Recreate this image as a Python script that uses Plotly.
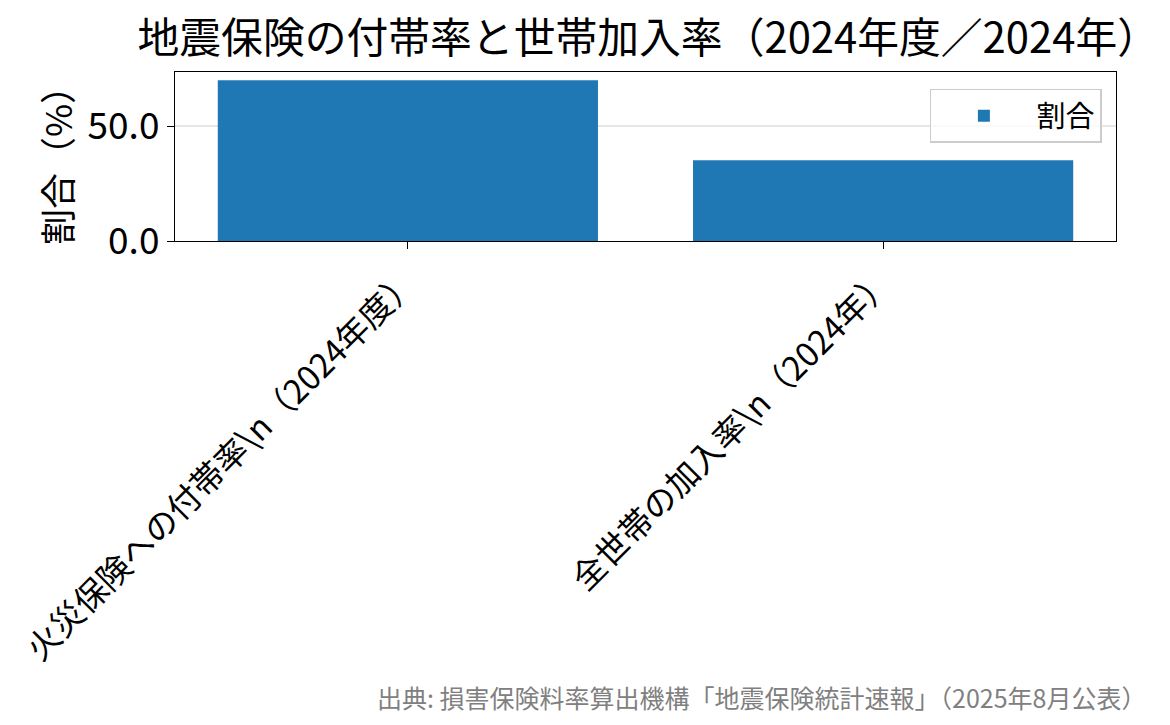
import plotly.graph_objects as go

# データ
categories = ["火災保険への付帯率\\n（2024年度）", "全世帯の加入率\\n（2024年）"]
rates = [69.9, 35.1]
series_name = "割合"
title_text = "地震保険の付帯率と世帯加入率（2024年度／2024年）"
source_text = "出典: 損害保険料率算出機構「地震保険統計速報」（2025年8月公表）"

FONT = "Noto Sans CJK JP, sans-serif"

fig = go.Figure()
fig.add_trace(go.Bar(
    x=categories,
    y=rates,
    name=series_name,
    marker_color="#1f77b4",
    marker_line_width=0,
    width=0.8,
    showlegend=True,
    hovertemplate="%{x}: %{y:.1f}%<extra></extra>",
))

# ページ本体の余白(8px)に収まるサイズ
fig.update_layout(
    width=1162,
    height=717,
    margin=dict(l=167, r=54, t=64, b=484, autoexpand=False),
    plot_bgcolor="white",
    paper_bgcolor="white",
    font=dict(family=FONT, color="black"),
    title=dict(text=title_text, x=0.551, xanchor="center", y=0.958, yanchor="middle",
               font=dict(size=41.8, color="black")),
    legend=dict(
        x=0.985, y=0.9, xanchor="right", yanchor="top",
        bgcolor="rgba(255,255,255,0.8)", bordercolor="#cccccc", borderwidth=1.5,
        font=dict(size=29), itemwidth=95,
    ),
)

fig.update_xaxes(
    range=[-0.49, 1.49],
    tickangle=-45,
    tickfont=dict(size=33),
    ticks="outside", ticklen=7, tickcolor="black", tickwidth=1.3,
    showline=True, linecolor="black", linewidth=1.3, mirror=True,
    showgrid=False, automargin=False,
)
fig.update_yaxes(
    range=[0, 73.5],
    tickvals=[0, 50],
    ticktext=["0.0", "50.0"],
    tickfont=dict(size=37),
    ticks="outside", ticklen=7, tickcolor="black", tickwidth=1.3,
    showline=True, linecolor="black", linewidth=1.3, mirror=True,
    showgrid=True, gridcolor="rgba(200,200,200,0.45)", gridwidth=1.5,
    zeroline=False, automargin=False,
    title=dict(text="割合（%）", font=dict(size=36), standoff=3),
)

fig.add_annotation(
    text=source_text,
    xref="paper", yref="paper",
    x=1.034, y=-2.70, xanchor="right", yanchor="middle",
    showarrow=False,
    font=dict(size=25, color="#808080"),
)

fig.write_html("out.html")
